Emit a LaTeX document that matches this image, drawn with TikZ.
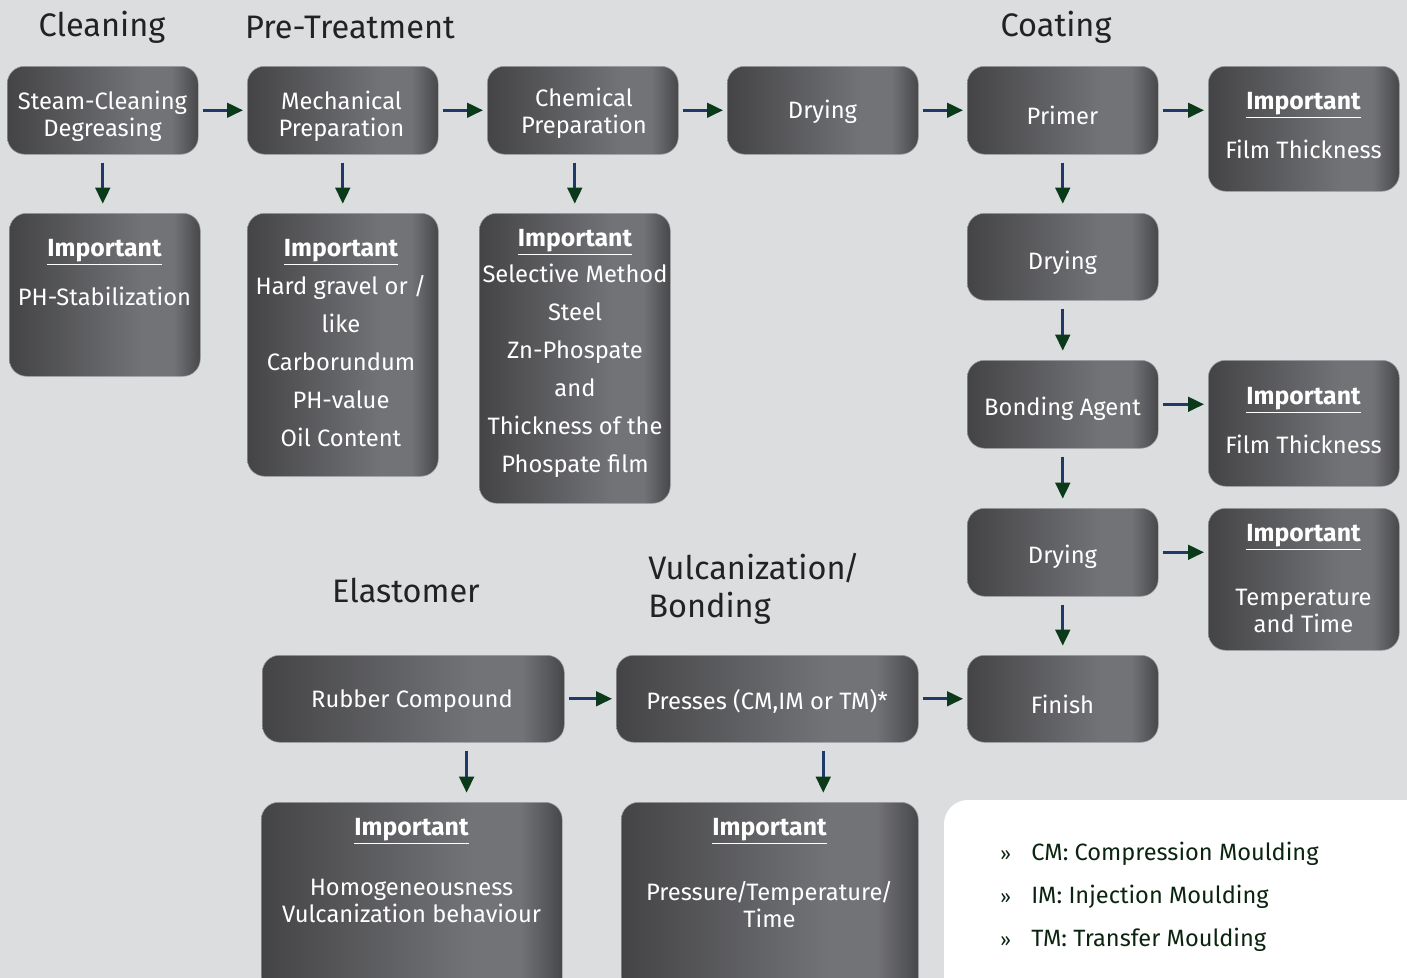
\documentclass[tikz,border=0pt]{standalone}
\usepackage{fontspec}
\setmainfont{Fira Sans}
\usetikzlibrary{arrows.meta,calc}
\definecolor{bg}{HTML}{DCDDDF}
\definecolor{bxA}{HTML}{444446}
\definecolor{bxB}{HTML}{727377}
\definecolor{bxC}{HTML}{48484B}
\definecolor{navy}{HTML}{1F3A68}
\definecolor{tipgreen}{HTML}{0A3A1A}
\definecolor{head}{HTML}{222222}
\definecolor{legtxt}{HTML}{0B2410}
\pgfdeclarehorizontalshading{boxshade}{100bp}{color(0bp)=(bxA); color(25bp)=(bxA); color(60bp)=(bxB); color(68bp)=(bxB); color(75bp)=(bxC); color(100bp)=(bxC)}
\tikzset{
  box/.style n args={2}{rectangle, rounded corners=13pt, shading=boxshade, draw=bxB!70!white, line width=0.4pt,
    minimum width=#1*0.75pt, minimum height=#2*0.75pt, inner sep=0pt, anchor=north west},
  txt/.style={text=white, font=\fontsize{17.8}{20.25}\selectfont, align=center, inner sep=0pt},
  imp/.style={text=white, font=\fontsize{18.6}{20.25}\selectfont\bfseries, inner sep=0pt},
  hd/.style={text=head, font=\fontsize{24.4}{28.5}\selectfont, inner sep=0pt},
  leg/.style={text=legtxt, font=\fontsize{17.7}{20}\selectfont, inner sep=0pt, anchor=west},
  bul/.style={text=legtxt, font=\fontsize{14}{16}\selectfont, inner sep=0pt, anchor=west},
  arr/.style={draw=navy, line width=2pt, -{Triangle[length=12pt,width=11pt,color=tipgreen]}},
}
\newcommand{\Imp}{\underline{Important}}
\begin{document}
\begin{tikzpicture}[x=0.75pt,y=-0.75pt]
\useasboundingbox (0,0) rectangle (1407,978);
\clip (0,0) rectangle (1407,978);
\fill[bg] (0,0) rectangle (1407,978);
% legend panel
\fill[white, rounded corners=18pt] (944,800) rectangle (1440,1010);

% headings
\node[hd] (h1) at (102,27) {Cleaning};
\node[hd] (h2) at (350,27) {Pre-Treatment};
\node[hd] (h3) at (1056,27) {Coating};
\node[hd] (h4) at (406,590) {Elastomer};
\node[hd, anchor=north west, align=left] (h5) at (648,553) {Vulcanization\kern-2pt/\\Bonding};

% boxes
\node[box={191}{88}] (sc) at (7,66) {};
\node[box={191}{88}] (mp) at (247,66) {};
\node[box={191}{88}] (cp) at (487,66) {};
\node[box={191}{88}] (dr1) at (727,66) {};
\node[box={191}{88}] (pr) at (967,66) {};
\node[box={191}{125}] (ft1) at (1208,66) {};
\node[box={191}{163}] (ph) at (9,213) {};
\node[box={191}{263}] (hg) at (247,213) {};
\node[box={191}{290}] (sm) at (479,213) {};
\node[box={191}{87}] (dr2) at (967,213) {};
\node[box={191}{88}] (ba) at (967,360) {};
\node[box={191}{126}] (ft2) at (1208,360) {};
\node[box={191}{88}] (dr3) at (967,508) {};
\node[box={191}{142}] (tt) at (1208,508) {};
\node[box={191}{87}] (fin) at (967,655) {};
\node[box={302}{87}] (rc) at (262,655) {};
\node[box={302}{87}] (pc) at (616,655) {};
\node[box={301}{200}] (hv) at (261,802) {};
\node[box={297}{200}] (pt) at (621,802) {};

% box texts
\node[txt] (sct) at (102.5,116.5) {Steam-Cleaning\\Degreasing};
\node[txt] (mpt) at (341.5,116.5) {Mechanical\\Preparation};
\node[txt] (cpt) at (584,113) {Chemical\\Preparation};
\node[txt] (dr1t) at (822.5,112) {Drying};
\node[txt] (prt) at (1062.5,115) {Primer};
\node[txt] (dr2t) at (1062.5,263) {Drying};
\node[txt] (bat) at (1062.5,409) {Bonding Agent};
\node[txt] (dr3t) at (1062.5,557) {Drying};
\node[txt] (fint) at (1062.5,704) {Finish};
\node[txt] (rct) at (412,701) {Rubber Compound};
\node[txt] (pct) at (767,701) {Presses (CM,IM or TM)*};

% texts in important boxes
\node[imp] (ft1h) at (1303.5,105) {\Imp};
\node[txt] (ft1t) at (1303.5,149) {Film Thickness};
\node[imp] (phh) at (104.5,252) {\Imp};
\node[txt] (pht) at (104.5,296) {PH-Stabilization};
\node[imp] (hgh) at (341,252) {\Imp};
\node[txt, font=\fontsize{17.8}{28.5}\selectfont] (hgt) at (341,361.5) {Hard gravel or /\\like\\Carborundum\\PH-value\\Oil Content};
\node[imp] (smh) at (575,242) {\Imp};
\node[txt, font=\fontsize{17.8}{28.5}\selectfont] (smt) at (575,371) {Selective Method\\Steel\\Zn-Phospate\\and\\Thickness of the\\Phospate film};
\node[imp] (ft2h) at (1303.5,400) {\Imp};
\node[txt] (ft2t) at (1303.5,444) {Film Thickness};
\node[imp] (tth) at (1303.5,537) {\Imp};
\node[txt] (ttt) at (1303.5,610.5) {Temperature\\and Time};
\node[imp] (hvh) at (411.5,831) {\Imp};
\node[txt] (hvt) at (411.5,901) {Homogeneousness\\Vulcanization behaviour};
\node[imp] (pth) at (769.5,831) {\Imp};
\node[txt] (ptt) at (769.5,904.5) {Pressure\kern-1.5pt/\kern-1.5pt Temperature\kern-1.5pt/\\Time};

% legend
\node[bul] (b1) at (1000,855) {»};
\node[bul] (b2) at (1000,898) {»};
\node[bul] (b3) at (1000,941) {»};
\node[leg] (l1) at (1031,854) {CM: Compression Moulding};
\node[leg] (l2) at (1031,897) {IM: Injection Moulding};
\node[leg] (l3) at (1031,940) {TM: Transfer Moulding};

% arrows
\begin{scope}[shorten <=3pt, shorten >=3pt]
\draw[arr] (sc.east) -- (mp.west);
\draw[arr] (mp.east) -- (cp.west);
\draw[arr] (cp.east) -- (dr1.west);
\draw[arr] (dr1.east) -- (pr.west);
\draw[arr] (pr.east) -- (pr.east -| ft1.west);
\draw[arr] (ba.east) -- (ba.east -| ft2.west);
\draw[arr] (dr3.east) -- (dr3.east -| tt.west);
\draw[arr] (rc.east) -- (pc.west);
\draw[arr] (pc.east) -- (fin.west);
\end{scope}
\begin{scope}[shorten <=6pt, shorten >=7pt]
\draw[arr] (sc.south) -- (sc.south |- ph.north);
\draw[arr] (mp.south) -- (hg.north);
\draw[arr] (cp.south -| sm.north) -- (sm.north);
\draw[arr] (pr.south) -- (dr2.north);
\draw[arr] (dr2.south) -- (ba.north);
\draw[arr] (ba.south) -- (dr3.north);
\draw[arr] (dr3.south) -- (fin.north);
\draw[arr] ([xshift=40pt]rc.south) -- ([xshift=40pt]rc.south |- hv.north);
\draw[arr] ([xshift=42pt]pc.south) -- ([xshift=42pt]pc.south |- pt.north);
\end{scope}
\end{tikzpicture}
\end{document}
